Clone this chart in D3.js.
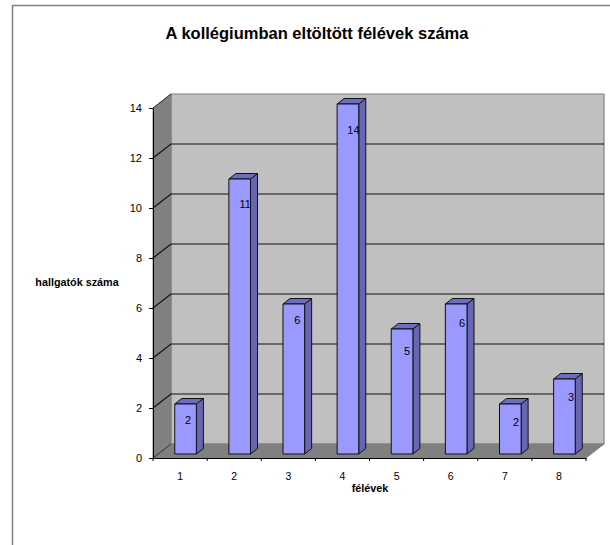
<!DOCTYPE html>
<html><head><meta charset="utf-8">
<script src="https://cdn.jsdelivr.net/npm/d3@7"></script>
<style>html,body{margin:0;padding:0;background:#fff}svg{display:block}text{font-family:"Liberation Sans",Arial,sans-serif;fill:#000}</style>
</head><body><svg id="c" width="610" height="545"></svg>
<script>
const categories = ["1","2","3","4","5","6","7","8"];
const values = [2,11,6,14,5,6,2,3];
const yTicks = [0,2,4,6,8,10,12,14];
const titleText = "A kollégiumban eltöltött félévek száma";
const yTitle = "hallgatók száma";
const xTitle = "félévek";

const svg = d3.select("#c");
const x = d3.scaleBand().domain(categories).range([153,586]).paddingInner(0.6).paddingOuter(0.3);
const xOuter = d3.scaleBand().domain(categories).range([153,586]);
const y = d3.scaleLinear().domain([0,14]).range([458,108]);
const dx = 18, dy = -14;          // wall depth
const bdx = 7, bdy = -5.5;        // bar depth
const bx = 5.5, by = -4;          // bar inset on floor
const labelOffX = [8,11,9,11,10.5,11.4,11.3,12];
const labelOffY = [16,25,16,26,22,19,18,18];
const poly = (pts,fill,stroke,sw=1)=>svg.append("polygon").attr("points",pts.map(p=>p.join(",")).join(" ")).attr("fill",fill).attr("stroke",stroke).attr("stroke-width",sw).attr("stroke-linejoin","round");

// outer frame
svg.append("path").attr("d","M12.5,545V5.5H610").attr("fill","none").attr("stroke","#7f7f7f").attr("stroke-width",1.5);

// walls
const X0=153,X1=586,Y0=y(0),Y1=y(14);
poly([[X0+dx,Y1+dy],[X1+dx,Y1+dy],[X1+dx,Y0+dy],[X0+dx,Y0+dy]],"#c0c0c0","#808080",1.2);
poly([[X0,Y1],[X0+dx,Y1+dy],[X0+dx,Y0+dy],[X0,Y0]],"#808080","#808080",1);
poly([[X0,Y0],[X0+dx,Y0+dy],[X1+dx,Y0+dy],[X1,Y0]],"#808080","#808080",1);

// gridlines
svg.append("g").selectAll("path").data(yTicks.filter(d=>d>0&&d<14)).join("path")
 .attr("d",d=>`M${X0},${y(d)}L${X0+dx},${y(d)+dy}H${X1+dx}`).attr("fill","none").attr("stroke","#111").attr("stroke-width",1.2);
svg.append("path").attr("d",`M${X0},${Y1}L${X0+dx},${Y1+dy}`).attr("stroke","#333").attr("fill","none");
svg.append("path").attr("d",`M${X0},${Y0}L${X0+dx},${Y0+dy}`).attr("stroke","#333").attr("fill","none");

// axes
const yAxis = d3.axisLeft(y).tickValues(yTicks).tickSize(4).tickPadding(7).tickFormat(d3.format("d"));
const ga = svg.append("g").attr("transform",`translate(${X0},0)`).call(yAxis);
ga.selectAll("text").style("font-size","11px");
ga.select(".domain").attr("stroke","#000");
const xAxis = d3.axisBottom(xOuter).tickSize(0).tickPadding(15);
const gx = svg.append("g").attr("transform",`translate(0,${Y0})`).call(xAxis);
gx.selectAll("text").style("font-size","10.5px");
gx.select(".domain").attr("stroke","#000");
svg.append("g").selectAll("line").data(d3.range(9)).join("line")
 .attr("x1",i=>X0+i*xOuter.bandwidth()).attr("x2",i=>X0+i*xOuter.bandwidth())
 .attr("y1",Y0).attr("y2",Y0+3).attr("stroke","#000");

// bars
const bars = svg.append("g");
categories.forEach((c,i)=>{
  const L=x(c)+bx,R=L+x.bandwidth(),T=y(values[i])+by,B=Y0+by;
  const g=bars.append("g");
  const draw=(pts,fill)=>g.append("polygon").attr("points",pts.map(p=>p.join(",")).join(" ")).attr("fill",fill).attr("stroke","#111").attr("stroke-width",1).attr("stroke-linejoin","round");
  draw([[R,T],[R+bdx,T+bdy],[R+bdx,B+bdy],[R,B]],"#6666b3");
  draw([[L,T],[L+bdx,T+bdy],[R+bdx,T+bdy],[R,T]],"#6c6cc0");
  draw([[L,T],[R,T],[R,B],[L,B]],"#9999ff");
});

// data labels
svg.append("g").selectAll("text").data(values).join("text")
 .attr("x",(d,i)=>x(categories[i])+x.bandwidth()/2+labelOffX[i])
 .attr("y",(d,i)=>y(d)+by+labelOffY[i]+3.5)
 .attr("text-anchor","middle").style("font-size","11px").text(d=>d);

// titles
svg.append("text").attr("x",317).attr("y",38.5).attr("text-anchor","middle").style("font-size","16.5px").style("font-weight","bold").text(titleText);
svg.append("text").attr("x",77).attr("y",286).attr("text-anchor","middle").style("font-size","10.8px").style("font-weight","bold").text(yTitle);
svg.append("text").attr("x",370).attr("y",492).attr("text-anchor","middle").style("font-size","10.8px").style("font-weight","bold").text(xTitle);
</script></body></html>
